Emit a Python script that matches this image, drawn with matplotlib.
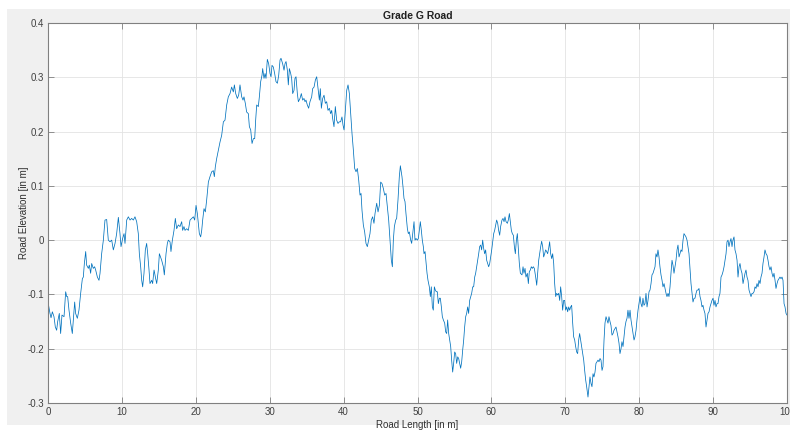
import matplotlib
matplotlib.use("Agg")
import matplotlib.pyplot as plt
from matplotlib.patches import Rectangle

plt.rcParams['font.family'] = ['Liberation Sans', 'DejaVu Sans']
plt.rcParams['axes.unicode_minus'] = False

title = "Grade G Road"
xlabel = "Road Length [in m]"
ylabel = "Road Elevation [in m]"
x_ticks = [0, 10, 20, 30, 40, 50, 60, 70, 80, 90, 100]
y_ticks = [-0.3, -0.2, -0.1, 0, 0.1, 0.2, 0.3, 0.4]
y_tick_labels = ["-0.3", "-0.2", "-0.1", "0", "0.1", "0.2", "0.3", "0.4"]

distance = [
    0.00, 0.27, 0.41, 0.59, 0.81, 0.99, 1.17, 1.31, 1.49, 1.53, 1.71, 1.89, 2.17, 2.39, 2.53, 2.66, 2.84, 3.07, 3.29, 3.61,
    3.74, 3.97, 4.19, 4.42, 4.65, 4.78, 4.92, 5.10, 5.23, 5.46, 5.59, 5.77, 5.91, 6.13, 6.31, 6.45, 6.68, 6.90, 7.04, 7.26,
    7.49, 7.71, 7.94, 8.16, 8.39, 8.62, 8.84, 9.07, 9.29, 9.52, 9.74, 9.88, 10.10, 10.29, 10.42, 10.65, 10.87, 11.10, 11.32, 11.55,
    11.77, 12.00, 12.22, 12.36, 12.54, 12.68, 12.81, 12.99, 13.17, 13.35, 13.49, 13.67, 13.80, 14.03, 14.16, 14.35, 14.57, 14.71, 14.93, 15.07,
    15.38, 15.61, 15.74, 15.97, 16.15, 16.28, 16.51, 16.64, 16.83, 17.05, 17.23, 17.41, 17.64, 17.86, 18.09, 18.22, 18.40, 18.54, 18.76, 18.99,
    19.22, 19.44, 19.67, 19.85, 20.03, 20.21, 20.34, 20.48, 20.66, 20.80, 20.93, 21.11, 21.29, 21.47, 21.70, 21.92, 22.15, 22.37, 22.51, 22.64,
    22.82, 23.05, 23.28, 23.50, 23.73, 23.95, 24.18, 24.40, 24.63, 24.85, 25.08, 25.22, 25.40, 25.62, 25.80, 25.98, 26.21, 26.39, 26.52, 26.70,
    26.88, 27.11, 27.25, 27.43, 27.61, 27.79, 27.97, 28.10, 28.24, 28.46, 28.60, 28.78, 28.96, 29.05, 29.23, 29.37, 29.50, 29.68, 29.86, 30.04,
    30.18, 30.31, 30.49, 30.67, 30.85, 31.04, 31.22, 31.40, 31.53, 31.75, 31.94, 32.07, 32.21, 32.39, 32.52, 32.66, 32.84, 32.97, 33.11, 33.29,
    33.42, 33.56, 33.74, 33.88, 34.10, 34.28, 34.46, 34.64, 34.78, 34.91, 35.09, 35.27, 35.45, 35.68, 35.81, 36.00, 36.18, 36.36, 36.54, 36.72,
    36.85, 36.99, 37.17, 37.35, 37.53, 37.71, 37.89, 38.07, 38.25, 38.39, 38.52, 38.70, 38.88, 39.06, 39.24, 39.42, 39.60, 39.78, 39.92, 40.06,
    40.24, 40.42, 40.60, 40.78, 40.96, 41.14, 41.32, 41.50, 41.68, 41.86, 42.04, 42.22, 42.36, 42.49, 42.67, 42.85, 43.03, 43.21, 43.39, 43.57,
    43.75, 43.93, 44.11, 44.25, 44.48, 44.66, 44.84, 45.02, 45.20, 45.38, 45.56, 45.74, 45.92, 46.10, 46.28, 46.46, 46.60, 46.73, 46.87, 47.05,
    47.18, 47.36, 47.54, 47.68, 47.90, 48.04, 48.17, 48.31, 48.44, 48.63, 48.76, 48.90, 49.08, 49.21, 49.35, 49.53, 49.66, 49.80, 49.98, 50.11,
    50.25, 50.38, 50.52, 50.65, 50.79, 50.88, 51.02, 51.15, 51.29, 51.42, 51.60, 51.74, 51.87, 52.01, 52.14, 52.28, 52.41, 52.55, 52.68, 52.82,
    52.96, 53.09, 53.23, 53.36, 53.50, 53.68, 53.81, 53.95, 54.08, 54.22, 54.35, 54.49, 54.62, 54.76, 54.89, 55.03, 55.16, 55.30, 55.44, 55.57,
    55.71, 55.84, 55.98, 56.11, 56.25, 56.38, 56.52, 56.65, 56.79, 56.92, 57.06, 57.20, 57.33, 57.47, 57.60, 57.74, 57.87, 58.01, 58.14, 58.28,
    58.41, 58.55, 58.68, 58.82, 58.95, 59.09, 59.22, 59.36, 59.50, 59.63, 59.77, 59.90, 60.04, 60.17, 60.31, 60.44, 60.58, 60.71, 60.85, 60.98,
    61.12, 61.25, 61.43, 61.57, 61.71, 61.84, 61.98, 62.16, 62.29, 62.43, 62.56, 62.70, 62.83, 62.97, 63.11, 63.24, 63.38, 63.51, 63.65, 63.78,
    63.92, 64.14, 64.28, 64.41, 64.55, 64.68, 64.86, 65.00, 65.13, 65.27, 65.40, 65.54, 65.67, 65.81, 65.99, 66.13, 66.26, 66.40, 66.53, 66.67,
    66.80, 66.94, 67.07, 67.21, 67.34, 67.48, 67.61, 67.75, 67.88, 68.02, 68.16, 68.29, 68.43, 68.56, 68.70, 68.83, 68.97, 69.10, 69.24, 69.37,
    69.51, 69.64, 69.78, 69.91, 70.05, 70.19, 70.32, 70.46, 70.59, 70.73, 70.86, 71.00, 71.13, 71.27, 71.40, 71.54, 71.67, 71.81, 71.94, 72.08,
    72.21, 72.35, 72.49, 72.62, 72.76, 72.89, 73.07, 73.21, 73.34, 73.48, 73.61, 73.75, 73.88, 74.02, 74.15, 74.29, 74.43, 74.56, 74.70, 74.83,
    74.97, 75.10, 75.24, 75.37, 75.51, 75.64, 75.78, 75.91, 76.05, 76.18, 76.32, 76.46, 76.59, 76.73, 76.86, 77.00, 77.13, 77.27, 77.40, 77.54,
    77.67, 77.81, 77.94, 78.08, 78.21, 78.35, 78.48, 78.62, 78.76, 78.89, 79.03, 79.16, 79.30, 79.43, 79.57, 79.70, 79.84, 79.97, 80.11, 80.24,
    80.38, 80.51, 80.65, 80.78, 80.92, 81.06, 81.19, 81.33, 81.46, 81.60, 81.73, 81.87, 82.00, 82.14, 82.27, 82.41, 82.54, 82.68, 82.81, 82.95,
    83.09, 83.22, 83.36, 83.49, 83.63, 83.76, 83.90, 84.03, 84.17, 84.30, 84.44, 84.57, 84.71, 84.84, 84.98, 85.12, 85.25, 85.39, 85.52, 85.66,
    85.79, 85.93, 86.06, 86.20, 86.33, 86.47, 86.60, 86.74, 86.87, 87.01, 87.15, 87.28, 87.42, 87.55, 87.69, 87.82, 87.96, 88.09, 88.23, 88.36,
    88.50, 88.63, 88.77, 88.90, 89.04, 89.18, 89.31, 89.45, 89.58, 89.72, 89.85, 89.99, 90.12, 90.26, 90.39, 90.53, 90.66, 90.80, 90.93, 91.07,
    91.21, 91.34, 91.48, 91.61, 91.75, 91.88, 92.02, 92.15, 92.29, 92.42, 92.56, 92.69, 92.83, 92.96, 93.10, 93.24, 93.37, 93.51, 93.64, 93.78,
    93.91, 94.05, 94.18, 94.32, 94.45, 94.59, 94.72, 94.86, 94.99, 95.13, 95.27, 95.40, 95.54, 95.67, 95.81, 95.94, 96.08, 96.21, 96.35, 96.48,
    96.62, 96.75, 96.89, 97.02, 97.16, 97.30, 97.43, 97.57, 97.70, 97.84, 97.97, 98.11, 98.24, 98.38, 98.51, 98.65, 98.78, 98.92, 99.05, 99.19,
    99.33, 99.46, 99.60, 99.73, 99.87, 100.00,
]

elevation = [
    -0.114, -0.135, -0.143, -0.132, -0.141, -0.160, -0.166, -0.150, -0.138, -0.135, -0.172, -0.138, -0.141, -0.095, -0.104, -0.104, -0.129, -0.153, -0.172, -0.114,
    -0.135, -0.144, -0.129, -0.098, -0.071, -0.068, -0.043, -0.021, -0.046, -0.052, -0.046, -0.061, -0.043, -0.052, -0.049, -0.055, -0.068, -0.074, -0.061, -0.025,
    0.000, 0.037, 0.038, 0.000, -0.003, 0.000, -0.018, -0.006, 0.012, 0.042, 0.012, -0.012, 0.003, 0.012, -0.006, 0.037, 0.043, 0.037, 0.040, 0.037,
    0.043, 0.034, 0.012, -0.025, -0.049, -0.074, -0.086, -0.061, -0.018, -0.006, -0.025, -0.055, -0.080, -0.074, -0.080, -0.055, -0.071, -0.080, -0.055, -0.025,
    -0.037, -0.049, -0.064, -0.025, -0.006, 0.000, -0.003, -0.021, 0.000, 0.018, 0.040, 0.021, 0.028, 0.025, 0.034, 0.018, 0.025, 0.018, 0.021, 0.018,
    0.037, 0.040, 0.043, 0.037, 0.064, 0.049, 0.031, 0.012, 0.006, 0.018, 0.037, 0.058, 0.052, 0.074, 0.107, 0.117, 0.126, 0.128, 0.117, 0.135,
    0.150, 0.166, 0.181, 0.193, 0.218, 0.221, 0.249, 0.264, 0.270, 0.282, 0.273, 0.286, 0.270, 0.261, 0.267, 0.286, 0.264, 0.258, 0.264, 0.252,
    0.236, 0.233, 0.209, 0.203, 0.178, 0.187, 0.187, 0.221, 0.249, 0.246, 0.264, 0.292, 0.304, 0.316, 0.298, 0.307, 0.298, 0.333, 0.325, 0.307,
    0.301, 0.322, 0.319, 0.307, 0.292, 0.289, 0.304, 0.332, 0.335, 0.325, 0.313, 0.325, 0.329, 0.313, 0.286, 0.316, 0.307, 0.298, 0.270, 0.276,
    0.298, 0.301, 0.270, 0.255, 0.261, 0.270, 0.258, 0.261, 0.255, 0.258, 0.249, 0.243, 0.255, 0.264, 0.279, 0.282, 0.295, 0.301, 0.279, 0.258,
    0.279, 0.243, 0.261, 0.267, 0.252, 0.255, 0.239, 0.243, 0.233, 0.239, 0.224, 0.209, 0.246, 0.221, 0.215, 0.218, 0.218, 0.227, 0.212, 0.203,
    0.239, 0.276, 0.286, 0.270, 0.233, 0.196, 0.166, 0.132, 0.126, 0.132, 0.111, 0.083, 0.086, 0.055, 0.028, 0.015, -0.006, -0.012, 0.000, 0.012,
    0.037, 0.043, 0.031, 0.049, 0.068, 0.052, 0.064, 0.107, 0.104, 0.095, 0.083, 0.086, 0.061, 0.037, 0.000, -0.037, -0.049, 0.000, 0.025, 0.037,
    0.040, 0.074, 0.117, 0.137, 0.117, 0.098, 0.077, 0.071, 0.049, 0.021, 0.012, 0.015, 0.000, -0.006, 0.012, 0.034, 0.000, 0.003, 0.000, 0.003,
    0.018, 0.034, 0.018, 0.000, -0.012, -0.025, -0.021, -0.040, -0.061, -0.074, -0.086, -0.104, -0.086, -0.123, -0.129, -0.086, -0.092, -0.095, -0.095, -0.117,
    -0.107, -0.107, -0.123, -0.141, -0.147, -0.153, -0.169, -0.172, -0.147, -0.172, -0.184, -0.196, -0.221, -0.243, -0.227, -0.206, -0.209, -0.227, -0.215, -0.218,
    -0.227, -0.236, -0.224, -0.203, -0.184, -0.160, -0.141, -0.135, -0.123, -0.135, -0.111, -0.104, -0.098, -0.086, -0.086, -0.068, -0.061, -0.049, -0.037, -0.025,
    -0.012, -0.009, -0.018, 0.000, -0.015, -0.025, -0.018, -0.037, -0.043, -0.049, -0.043, -0.031, -0.018, -0.003, 0.012, 0.018, 0.028, 0.037, 0.031, 0.018,
    0.009, 0.025, 0.037, 0.040, 0.034, 0.043, 0.034, 0.031, 0.037, 0.049, 0.034, 0.018, 0.012, 0.009, -0.012, -0.025, 0.000, 0.012, -0.018, -0.043,
    -0.061, -0.064, -0.049, -0.061, -0.052, -0.068, -0.061, -0.080, -0.058, -0.055, -0.049, -0.052, -0.049, -0.052, -0.068, -0.083, -0.061, -0.037, -0.025, -0.012,
    -0.002, -0.012, -0.031, -0.025, -0.018, -0.021, -0.025, -0.015, -0.003, -0.025, -0.034, -0.025, -0.043, -0.080, -0.104, -0.098, -0.101, -0.098, -0.111, -0.086,
    -0.104, -0.129, -0.111, -0.111, -0.129, -0.123, -0.132, -0.123, -0.129, -0.123, -0.120, -0.153, -0.178, -0.184, -0.196, -0.206, -0.209, -0.184, -0.172, -0.184,
    -0.196, -0.209, -0.221, -0.240, -0.258, -0.270, -0.289, -0.270, -0.252, -0.264, -0.270, -0.246, -0.252, -0.243, -0.227, -0.224, -0.221, -0.224, -0.218, -0.221,
    -0.240, -0.233, -0.184, -0.153, -0.141, -0.147, -0.153, -0.141, -0.150, -0.157, -0.175, -0.172, -0.166, -0.163, -0.160, -0.169, -0.178, -0.190, -0.209, -0.200,
    -0.187, -0.196, -0.178, -0.160, -0.150, -0.144, -0.129, -0.144, -0.129, -0.147, -0.160, -0.172, -0.184, -0.178, -0.166, -0.147, -0.129, -0.117, -0.104, -0.117,
    -0.123, -0.107, -0.120, -0.117, -0.098, -0.123, -0.111, -0.095, -0.092, -0.080, -0.064, -0.061, -0.055, -0.049, -0.025, -0.031, -0.018, -0.031, -0.049, -0.064,
    -0.074, -0.086, -0.080, -0.089, -0.098, -0.104, -0.098, -0.104, -0.086, -0.061, -0.037, -0.046, -0.061, -0.049, -0.037, -0.018, -0.009, -0.031, -0.025, -0.018,
    -0.021, 0.000, 0.012, 0.009, 0.006, 0.000, -0.012, -0.025, -0.052, -0.080, -0.098, -0.114, -0.107, -0.107, -0.098, -0.092, -0.092, -0.089, -0.104, -0.111,
    -0.123, -0.120, -0.129, -0.135, -0.160, -0.147, -0.135, -0.132, -0.123, -0.117, -0.111, -0.107, -0.120, -0.111, -0.123, -0.117, -0.117, -0.104, -0.098, -0.068,
    -0.064, -0.058, -0.049, -0.037, -0.025, -0.003, 0.000, -0.012, -0.003, 0.003, -0.012, 0.000, 0.006, -0.018, -0.025, -0.037, -0.068, -0.049, -0.043, -0.055,
    -0.061, -0.080, -0.071, -0.061, -0.055, -0.068, -0.074, -0.092, -0.098, -0.104, -0.098, -0.098, -0.095, -0.086, -0.089, -0.080, -0.086, -0.074, -0.080, -0.068,
    -0.061, -0.043, -0.031, -0.018, -0.025, -0.028, -0.037, -0.049, -0.055, -0.049, -0.061, -0.068, -0.061, -0.074, -0.089, -0.080, -0.074, -0.071, -0.068, -0.071,
    -0.068, -0.074, -0.117, -0.123, -0.135, -0.138,
]

W, H = 790, 430
fig = plt.figure(figsize=(W / 100, H / 100), dpi=100, facecolor="white")
fig.patches.append(Rectangle((7 / W, 5 / H), 1 - 7 / W, 1 - 5 / H - 9 / H,
                             transform=fig.transFigure, facecolor="#f0f0f0",
                             edgecolor="none", zorder=-10))

ax = fig.add_axes([48 / W, 1 - 403 / H, (787 - 48) / W, (403 - 23) / H])
ax.set_facecolor("white")
ax.plot(distance, elevation, color="#0072BD", linewidth=0.55)

ax.set_xlim(0, 100)
ax.set_ylim(-0.3, 0.4)
ax.set_xticks(x_ticks)
ax.set_yticks(y_ticks)
ax.set_yticklabels(y_tick_labels)
ax.grid(True, color="#e3e3e3", linewidth=0.6)
ax.set_axisbelow(True)
ax.tick_params(direction="in", length=4, width=0.6, colors="#808080",
               labelcolor="#404040", labelsize=7, top=True, right=True, pad=3)
for sp in ax.spines.values():
    sp.set_color("#808080")
    sp.set_linewidth(0.8)

ax.set_title(title, fontsize=7.5, fontweight="bold", color="#202020", pad=3)
ax.set_xlabel(xlabel, fontsize=7, color="#303030", labelpad=2)
ax.set_ylabel(ylabel, fontsize=7, color="#303030", labelpad=-1)

fig.savefig("out.png", dpi=100, facecolor=fig.get_facecolor())
